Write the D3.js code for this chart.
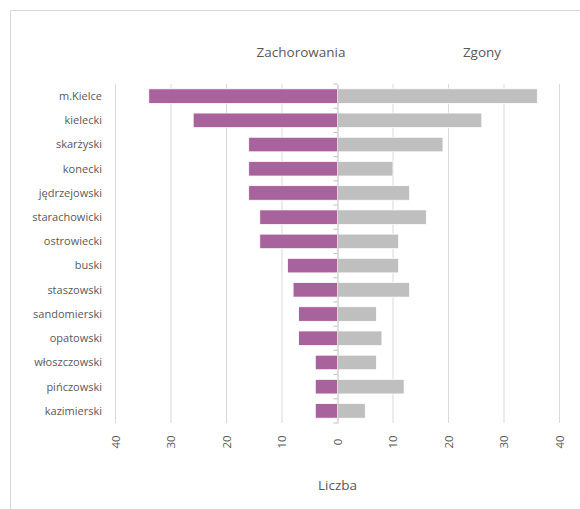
<!DOCTYPE html>
<html>
<head>
<meta charset="utf-8">
<script src="https://cdn.jsdelivr.net/npm/d3@7"></script>
<style>
  body { margin: 0; background: #fff; }
  text { font-family: "Open Sans", sans-serif; fill: #595959; }
</style>
</head>
<body>
<div id="chart"></div>
<script>
// Data
const districts = ["m.Kielce", "kielecki", "skarżyski", "konecki", "jędrzejowski", "starachowicki",
  "ostrowiecki", "buski", "staszowski", "sandomierski", "opatowski", "włoszczowski", "pińczowski", "kazimierski"];
const cases = [34, 26, 16, 16, 16, 14, 14, 9, 8, 7, 7, 4, 4, 4];
const deaths = [36, 26, 19, 10, 13, 16, 11, 11, 13, 7, 8, 7, 12, 5];
const ticks = [-40, -30, -20, -10, 0, 10, 20, 30, 40];

let width = 580, height = 509;
let margin = { top: 84, bottom: 86, left: 115.5, right: 20.5 };

let svg = d3.select('#chart')
  .append('svg')
  .attr('width', width)
  .attr('height', height);

// chart border
svg.append('rect')
  .attr('x', 10.5).attr('y', 10.5)
  .attr('width', 700).attr('height', 700)
  .attr('fill', 'none')
  .attr('stroke', '#d9d9d9');

let x = d3.scaleLinear()
  .domain([-40, 40])
  .range([margin.left, width - margin.right]);

let y = d3.scaleBand()
  .domain(districts)
  .range([margin.top, height - margin.bottom])
  .paddingInner(0.4)
  .paddingOuter(0.2);

// gridlines
svg.append('g')
  .selectAll('line')
  .data(ticks.filter(d => d !== 0))
  .enter()
  .append('line')
  .attr('x1', d => x(d)).attr('x2', d => x(d))
  .attr('y1', margin.top).attr('y2', height - margin.bottom)
  .attr('stroke', '#d9d9d9')
  .attr('stroke-width', 1);

// bars
svg.append('g')
  .selectAll('rect')
  .data(districts)
  .enter()
  .append('rect')
  .attr('x', (d, i) => x(-cases[i]))
  .attr('y', d => y(d))
  .attr('width', (d, i) => x(0) - x(-cases[i]))
  .attr('height', y.bandwidth())
  .attr('fill', '#a9639c')
  .attr('stroke', '#fff')
  .attr('stroke-width', 0.75);

svg.append('g')
  .selectAll('rect')
  .data(districts)
  .enter()
  .append('rect')
  .attr('x', x(0))
  .attr('y', d => y(d))
  .attr('width', (d, i) => x(deaths[i]) - x(0))
  .attr('height', y.bandwidth())
  .attr('fill', '#bfbfbf')
  .attr('stroke', '#fff')
  .attr('stroke-width', 0.75);

// category axis at zero
let yAxis = svg.append('g')
  .attr('transform', `translate(${x(0)},0)`)
  .call(d3.axisLeft(y).tickSize(0).tickFormat(''));
yAxis.select('.domain').attr('stroke', '#bfbfbf');
yAxis.selectAll('.bound')
  .data(d3.range(districts.length + 1))
  .enter()
  .append('line')
  .attr('x1', -4).attr('x2', 0)
  .attr('y1', i => y.range()[0] + i * y.step())
  .attr('y2', i => y.range()[0] + i * y.step())
  .attr('stroke', '#bfbfbf');

// category labels
svg.append('g')
  .selectAll('text')
  .data(districts)
  .enter()
  .append('text')
  .attr('x', 102)
  .attr('y', d => y(d) + y.bandwidth() / 2)
  .attr('dy', '0.35em')
  .attr('text-anchor', 'end')
  .style('font-size', '11px')
  .text(d => d);

// value axis labels, rotated
svg.append('g')
  .selectAll('text')
  .data(ticks)
  .enter()
  .append('text')
  .attr('transform', d => `translate(${x(d)},442) rotate(-90)`)
  .attr('dy', '0.35em')
  .attr('text-anchor', 'middle')
  .style('font-size', '11.5px')
  .text(d => Math.abs(d));

// axis title
svg.append('text')
  .attr('x', x(0))
  .attr('y', 490)
  .attr('text-anchor', 'middle')
  .style('font-size', '13.5px')
  .text('Liczba');

// series titles
svg.append('text')
  .attr('x', 301)
  .attr('y', 57)
  .attr('text-anchor', 'middle')
  .style('font-size', '13.5px')
  .text('Zachorowania');

svg.append('text')
  .attr('x', 482)
  .attr('y', 57)
  .attr('text-anchor', 'middle')
  .style('font-size', '13.5px')
  .text('Zgony');
</script>
</body>
</html>
